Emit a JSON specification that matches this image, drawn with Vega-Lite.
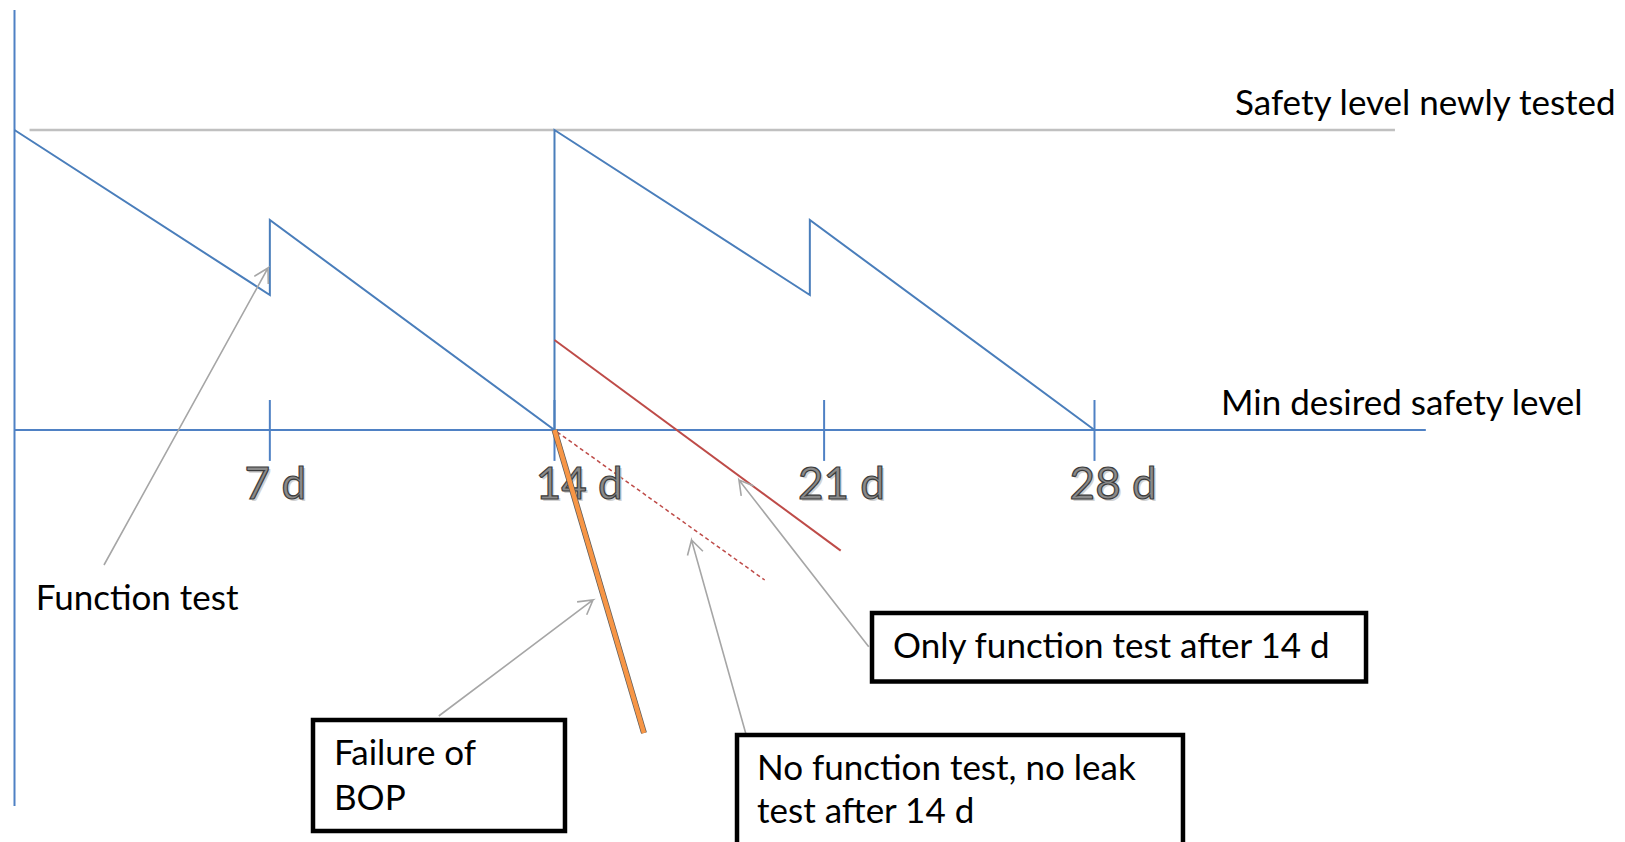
{
  "$schema": "https://vega.github.io/schema/vega-lite/v6.json",
  "width": 1625,
  "height": 842,
  "autosize": {"type": "fit", "contains": "padding"},
  "padding": 0,
  "background": "white",
  "config": {"view": {"stroke": null}},
  "datasets": {
    "lines": [
      {"series": "frame", "part": "yaxis", "order": 0, "d": 0, "y": 140},
      {"series": "frame", "part": "yaxis", "order": 1, "d": 0, "y": -125.3},
      {"series": "frame", "part": "minline", "order": 0, "d": 0, "y": 0},
      {"series": "frame", "part": "minline", "order": 1, "d": 36.59, "y": 0},
      {"series": "frame", "part": "t7", "order": 0, "d": 6.62, "y": 10},
      {"series": "frame", "part": "t7", "order": 1, "d": 6.62, "y": -10.3},
      {"series": "frame", "part": "t14", "order": 0, "d": 14, "y": 10},
      {"series": "frame", "part": "t14", "order": 1, "d": 14, "y": -10.3},
      {"series": "frame", "part": "t21", "order": 0, "d": 20.99, "y": 10},
      {"series": "frame", "part": "t21", "order": 1, "d": 20.99, "y": -10.3},
      {"series": "frame", "part": "t28", "order": 0, "d": 28, "y": 10},
      {"series": "frame", "part": "t28", "order": 1, "d": 28, "y": -10.3},
      {"series": "newly", "part": "newly", "order": 0, "d": 0.39, "y": 100},
      {"series": "newly", "part": "newly", "order": 1, "d": 35.79, "y": 100},
      {"series": "saw", "part": "saw", "order": 0, "d": 0, "y": 100},
      {"series": "saw", "part": "saw", "order": 1, "d": 6.62, "y": 45},
      {"series": "saw", "part": "saw", "order": 2, "d": 6.62, "y": 70},
      {"series": "saw", "part": "saw", "order": 3, "d": 14, "y": 0},
      {"series": "saw", "part": "saw", "order": 4, "d": 14, "y": 100},
      {"series": "saw", "part": "saw", "order": 5, "d": 20.62, "y": 45},
      {"series": "saw", "part": "saw", "order": 6, "d": 20.62, "y": 70},
      {"series": "saw", "part": "saw", "order": 7, "d": 28, "y": 0},
      {"series": "red", "part": "red", "order": 0, "d": 14, "y": 30},
      {"series": "red", "part": "red", "order": 1, "d": 21.42, "y": -40.2},
      {"series": "reddash", "part": "reddash", "order": 0, "d": 14.07, "y": -0.67},
      {"series": "reddash", "part": "reddash", "order": 1, "d": 19.45, "y": -50},
      {"series": "orange", "part": "orange", "order": 0, "d": 14, "y": 0},
      {"series": "orange", "part": "orange", "order": 1, "d": 16.32, "y": -101},
      {"series": "arrow", "part": "a1", "order": 0, "d": 2.32, "y": -45},
      {"series": "arrow", "part": "a1", "order": 1, "d": 6.572, "y": 54},
      {"series": "arrow", "part": "a1", "order": 2, "d": 6.217, "y": 51.23},
      {"series": "arrow", "part": "a1", "order": 3, "d": 6.572, "y": 54},
      {"series": "arrow", "part": "a1", "order": 4, "d": 6.58, "y": 48.67},
      {"series": "arrow", "part": "a2", "order": 0, "d": 11.0, "y": -95.33},
      {"series": "arrow", "part": "a2", "order": 1, "d": 14.998, "y": -56.67},
      {"series": "arrow", "part": "a2", "order": 2, "d": 14.586, "y": -57.3},
      {"series": "arrow", "part": "a2", "order": 3, "d": 14.998, "y": -56.67},
      {"series": "arrow", "part": "a2", "order": 4, "d": 14.835, "y": -61.57},
      {"series": "arrow", "part": "a3", "order": 0, "d": 19.043, "y": -105},
      {"series": "arrow", "part": "a3", "order": 1, "d": 17.552, "y": -36.67},
      {"series": "arrow", "part": "a3", "order": 2, "d": 17.448, "y": -41.83},
      {"series": "arrow", "part": "a3", "order": 3, "d": 17.552, "y": -36.67},
      {"series": "arrow", "part": "a3", "order": 4, "d": 17.848, "y": -40.4},
      {"series": "arrow", "part": "a4", "order": 0, "d": 22.147, "y": -72.23},
      {"series": "arrow", "part": "a4", "order": 1, "d": 18.783, "y": -16.67},
      {"series": "arrow", "part": "a4", "order": 2, "d": 18.841, "y": -21.93},
      {"series": "arrow", "part": "a4", "order": 3, "d": 18.783, "y": -16.67},
      {"series": "arrow", "part": "a4", "order": 4, "d": 19.167, "y": -18.67}
    ],
    "boxes": [
      {"box": "Failure of BOP", "d": 7.739, "d2": 14.272, "y": -96.67, "y2": -133.67},
      {"box": "Only function test after 14 d", "d": 22.232, "d2": 35.04, "y": -61.0, "y2": -83.8},
      {"box": "No function test, no leak test after 14 d", "d": 18.732, "d2": 30.294, "y": -101.67, "y2": -150}
    ],
    "texts": [
      {"label": "Safety level newly tested", "d": 31.643, "y": 105},
      {"label": "Min desired safety level", "d": 31.28, "y": 5},
      {"label": "Function test", "d": 0.55, "y": -60},
      {"label": "Failure of", "d": 8.283, "y": -111.67},
      {"label": "BOP", "d": 8.283, "y": -126.67},
      {"label": "Only function test after 14 d", "d": 22.776, "y": -76},
      {"label": "No function test, no leak", "d": 19.251, "y": -116.67},
      {"label": "test after 14 d", "d": 19.251, "y": -131}
    ],
    "ticklabels": [
      {"label": "7 d", "d": 5.966, "y": -23},
      {"label": "14 d", "d": 13.513, "y": -23},
      {"label": "21 d", "d": 20.313, "y": -23},
      {"label": "28 d", "d": 27.355, "y": -23}
    ]
  },
  "encoding": {
    "x": {"field": "d", "type": "quantitative", "axis": null,
          "scale": {"domain": [-0.3759, 41.754], "nice": false, "zero": false}},
    "y": {"field": "y", "type": "quantitative", "axis": null,
          "scale": {"domain": [-137.333, 143.333], "nice": false, "zero": false}}
  },
  "layer": [
    {
      "data": {"name": "lines"},
      "transform": [{"filter": "datum.series === 'newly'"}],
      "mark": {"type": "line", "color": "#c0c0c0", "strokeWidth": 2.5},
      "encoding": {"detail": {"field": "part"}, "order": {"field": "order"}}
    },
    {
      "data": {"name": "lines"},
      "transform": [{"filter": "datum.series === 'frame'"}],
      "mark": {"type": "line", "color": "#4f81c4", "strokeWidth": 2},
      "encoding": {"detail": {"field": "part"}, "order": {"field": "order"}}
    },
    {
      "data": {"name": "lines"},
      "transform": [{"filter": "datum.series === 'saw'"}],
      "mark": {"type": "line", "color": "#4a7ebb", "strokeWidth": 2},
      "encoding": {"detail": {"field": "part"}, "order": {"field": "order"}}
    },
    {
      "data": {"name": "lines"},
      "transform": [{"filter": "datum.series === 'red'"}],
      "mark": {"type": "line", "color": "#be4b48", "strokeWidth": 2},
      "encoding": {"detail": {"field": "part"}, "order": {"field": "order"}}
    },
    {
      "data": {"name": "lines"},
      "transform": [{"filter": "datum.series === 'reddash'"}],
      "mark": {"type": "line", "color": "#be4b48", "strokeWidth": 1.5, "strokeDash": [4, 3]},
      "encoding": {"detail": {"field": "part"}, "order": {"field": "order"}}
    },
    {
      "data": {"name": "ticklabels"},
      "mark": {"type": "text", "align": "left", "baseline": "alphabetic", "font": "Lato", "fontSize": 44, "fill": "#c8c8c8", "dx": 2, "dy": 2, "opacity": 0.8},
      "encoding": {"text": {"field": "label"}}
    },
    {
      "data": {"name": "ticklabels"},
      "mark": {"type": "text", "align": "left", "baseline": "alphabetic", "font": "Lato", "fontSize": 44, "fill": "#8a8a8a", "stroke": "#3c3c3c", "strokeWidth": 1.2},
      "encoding": {"text": {"field": "label"}}
    },
    {
      "data": {"name": "lines"},
      "transform": [{"filter": "datum.series === 'orange'"}],
      "mark": {"type": "line", "color": "#5a5a5a", "strokeWidth": 6},
      "encoding": {"detail": {"field": "part"}, "order": {"field": "order"}}
    },
    {
      "data": {"name": "lines"},
      "transform": [{"filter": "datum.series === 'orange'"}],
      "mark": {"type": "line", "color": "#f79646", "strokeWidth": 4.5},
      "encoding": {"detail": {"field": "part"}, "order": {"field": "order"}}
    },
    {
      "data": {"name": "lines"},
      "transform": [{"filter": "datum.series === 'arrow'"}],
      "mark": {"type": "line", "color": "#a6a6a6", "strokeWidth": 1.6},
      "encoding": {"detail": {"field": "part"}, "order": {"field": "order"}}
    },
    {
      "data": {"name": "boxes"},
      "mark": {"type": "rect", "fill": "white", "stroke": "black", "strokeWidth": 4.5, "clip": true},
      "encoding": {"x2": {"field": "d2"}, "y2": {"field": "y2"}}
    },
    {
      "data": {"name": "texts"},
      "mark": {"type": "text", "align": "left", "baseline": "alphabetic", "font": "Lato", "fontSize": 35, "fill": "black"},
      "encoding": {"text": {"field": "label"}}
    }
  ]
}
